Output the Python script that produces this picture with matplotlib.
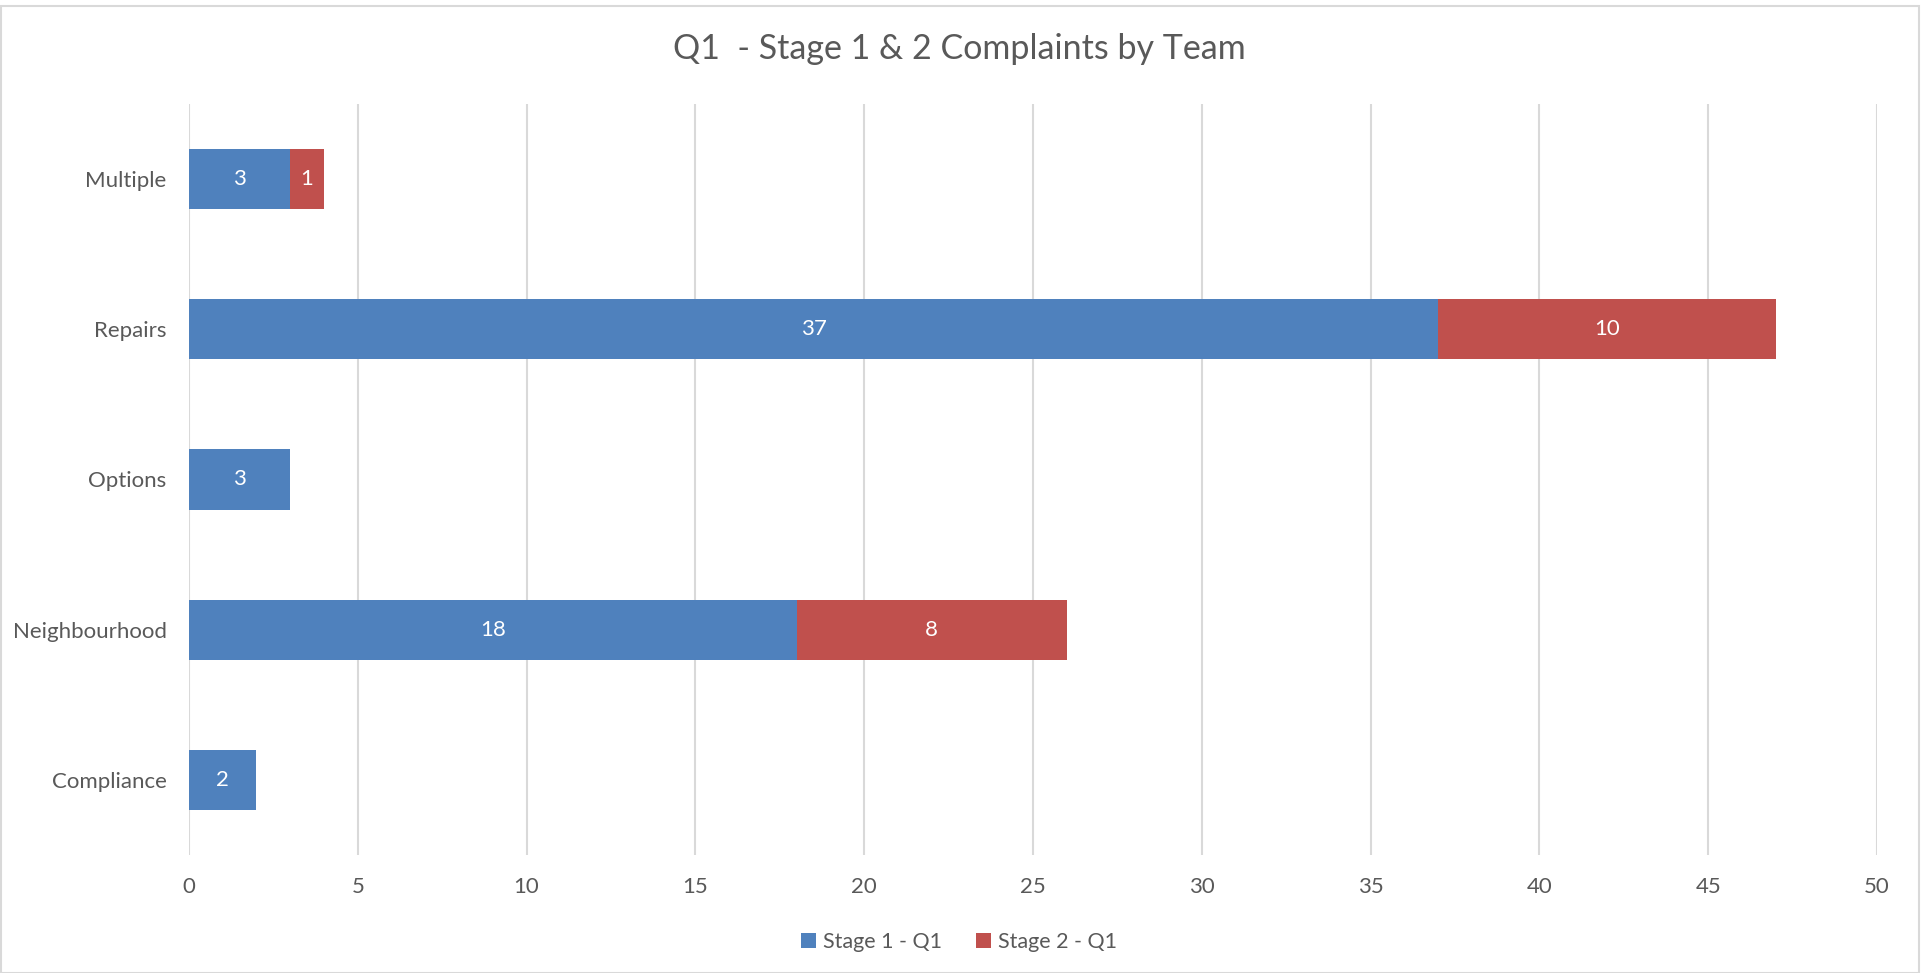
import numpy as np
import matplotlib
matplotlib.use("Agg")
import matplotlib.pyplot as plt
from matplotlib.patches import Rectangle

plt.rcParams['font.family'] = ['Lato', 'DejaVu Sans']

# data
teams = ["Compliance", "Neighbourhood", "Options", "Repairs", "Multiple"]
stage1 = [2, 18, 3, 37, 3]
stage2 = [0, 8, 0, 10, 1]
series_names = ["Stage 1 - Q1", "Stage 2 - Q1"]

blue = "#4F81BD"
red = "#C0504D"
txt = "#595959"
grid = "#D9D9D9"

fig = plt.figure(figsize=(19.26, 9.73), dpi=100)
ax = fig.add_axes([0.0981, 0.1213, 0.8765, 0.7718])

y = np.arange(len(teams))
b1 = ax.barh(y, stage1, height=0.4, color=blue, label=series_names[0], zorder=3)
b2 = ax.barh(y, stage2, left=stage1, height=0.4, color=red, label=series_names[1], zorder=3)

for bars, vals in ((b1, stage1), (b2, stage2)):
    for r, v in zip(bars, vals):
        if v > 0:
            ax.text(r.get_x() + r.get_width() / 2, r.get_y() + r.get_height() / 2, str(v),
                    ha="center", va="center", color="white", fontsize=16, zorder=4)

ax.set_xlim(0, 50)
ax.set_ylim(-0.5, len(teams) - 0.5)
ax.set_xticks(np.arange(0, 51, 5))
ax.set_yticks(y)
ax.set_yticklabels(teams)
ax.tick_params(axis="both", length=0, labelsize=16, labelcolor=txt)
ax.tick_params(axis="x", pad=16)
ax.tick_params(axis="y", pad=16)
for lbl in ax.get_yticklabels():
    lbl.set_y(lbl.get_position()[1])
    lbl.set_va("center_baseline")
ax.grid(axis="x", color=grid, linewidth=1.5, zorder=0)
for s in ax.spines.values():
    s.set_visible(False)

fig.text(0.498, 0.9496, "Q1  - Stage 1 & 2 Complaints by Team", ha="center", va="center",
         fontsize=24.5, color=txt)

leg = fig.legend(loc="center", bbox_to_anchor=(0.498, 0.032), ncol=2, frameon=False,
                 fontsize=15.5, handlelength=0.7, handleheight=0.7, columnspacing=1.6,
                 handletextpad=0.3)
for t in leg.get_texts():
    t.set_color(txt)

fig.patches.append(Rectangle((0.0005, 0.0), 0.996, 0.994, transform=fig.transFigure,
                             fill=False, edgecolor=grid, linewidth=1.5))

fig.savefig("out.png", dpi=100)
